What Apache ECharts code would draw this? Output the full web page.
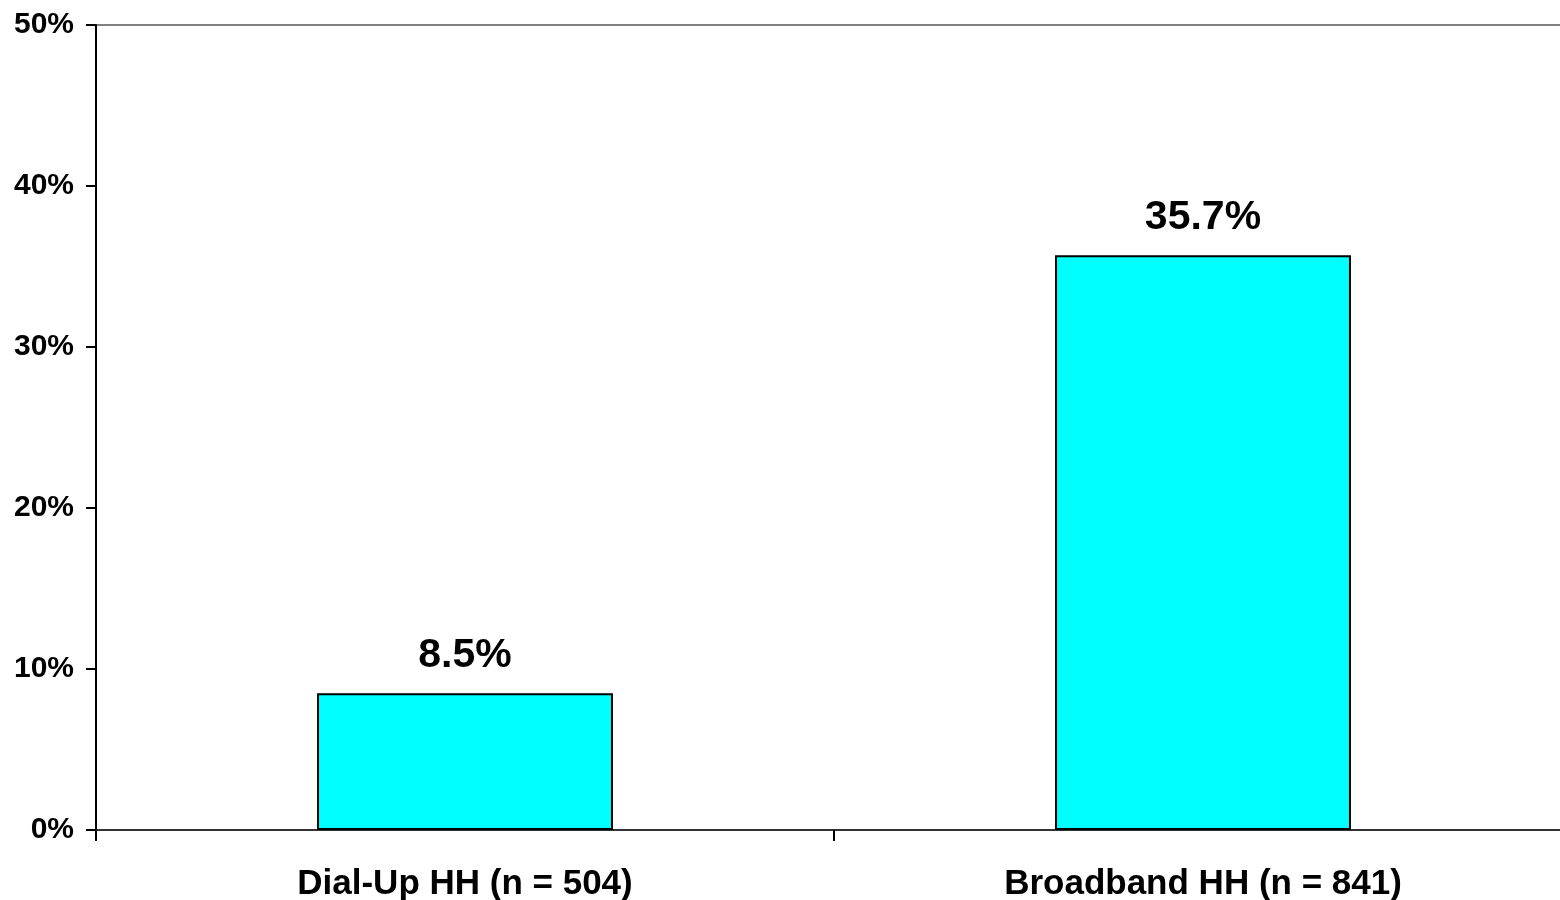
<!DOCTYPE html>
<html>
<head>
<meta charset="utf-8">
<style>
  html, body { margin: 0; padding: 0; background: #ffffff; }
  #chart { width: 1560px; height: 900px; }
</style>
<script src="https://cdn.jsdelivr.net/npm/echarts@6/dist/echarts.min.js"></script>
</head>
<body>
<div id="chart"></div>
<script>
// Households by connection type and share (%)
const categories = ['Dial-Up HH (n = 504)', 'Broadband HH (n = 841)'];
const shares = [8.5, 35.7];
const yTicks = [0, 10, 20, 30, 40, 50];

const FONT = '"Liberation Sans", Arial, sans-serif';

const chart = echarts.init(document.getElementById('chart'), null, { renderer: 'canvas' });

chart.setOption({
  backgroundColor: '#ffffff',
  animation: false,
  // plot area runs slightly past the right edge of the canvas
  grid: {
    left: 96, right: -12, top: 25, bottom: 70,
    containLabel: false,
    outerBoundsMode: 'none'
  },
  xAxis: {
    type: 'category',
    data: categories,
    axisLine: { show: true, lineStyle: { color: '#333333', width: 2 } },
    axisTick: { show: true, length: 11, lineStyle: { color: '#000000', width: 2 } },
    axisLabel: {
      margin: 37,
      color: '#000000',
      fontFamily: FONT,
      fontWeight: 'bold',
      fontSize: 35
    }
  },
  yAxis: {
    type: 'value',
    min: yTicks[0],
    max: yTicks[yTicks.length - 1],
    interval: 10,
    axisLine: { show: true, lineStyle: { color: '#000000', width: 2 } },
    axisTick: { show: true, length: 10, lineStyle: { color: '#000000', width: 2 } },
    axisLabel: {
      margin: 22,
      color: '#000000',
      fontFamily: FONT,
      fontWeight: 'bold',
      fontSize: 30,
      padding: [6, 0, 0, 0],
      formatter: v => v + '%'
    },
    splitLine: {
      show: true,
      lineStyle: {
        width: 2,
        color: yTicks.map((t, i) => i === yTicks.length - 1 ? '#808080' : 'rgba(0,0,0,0)')
      }
    }
  },
  series: [{
    type: 'bar',
    data: shares,
    barWidth: '40.1%',
    itemStyle: { color: '#00FFFF', borderColor: '#000000', borderWidth: 2 },
    label: {
      show: true,
      position: 'top',
      distance: 17,
      color: '#000000',
      fontFamily: FONT,
      fontWeight: 'bold',
      fontSize: 41,
      formatter: p => p.value.toFixed(1) + '%'
    }
  }]
});
</script>
</body>
</html>
